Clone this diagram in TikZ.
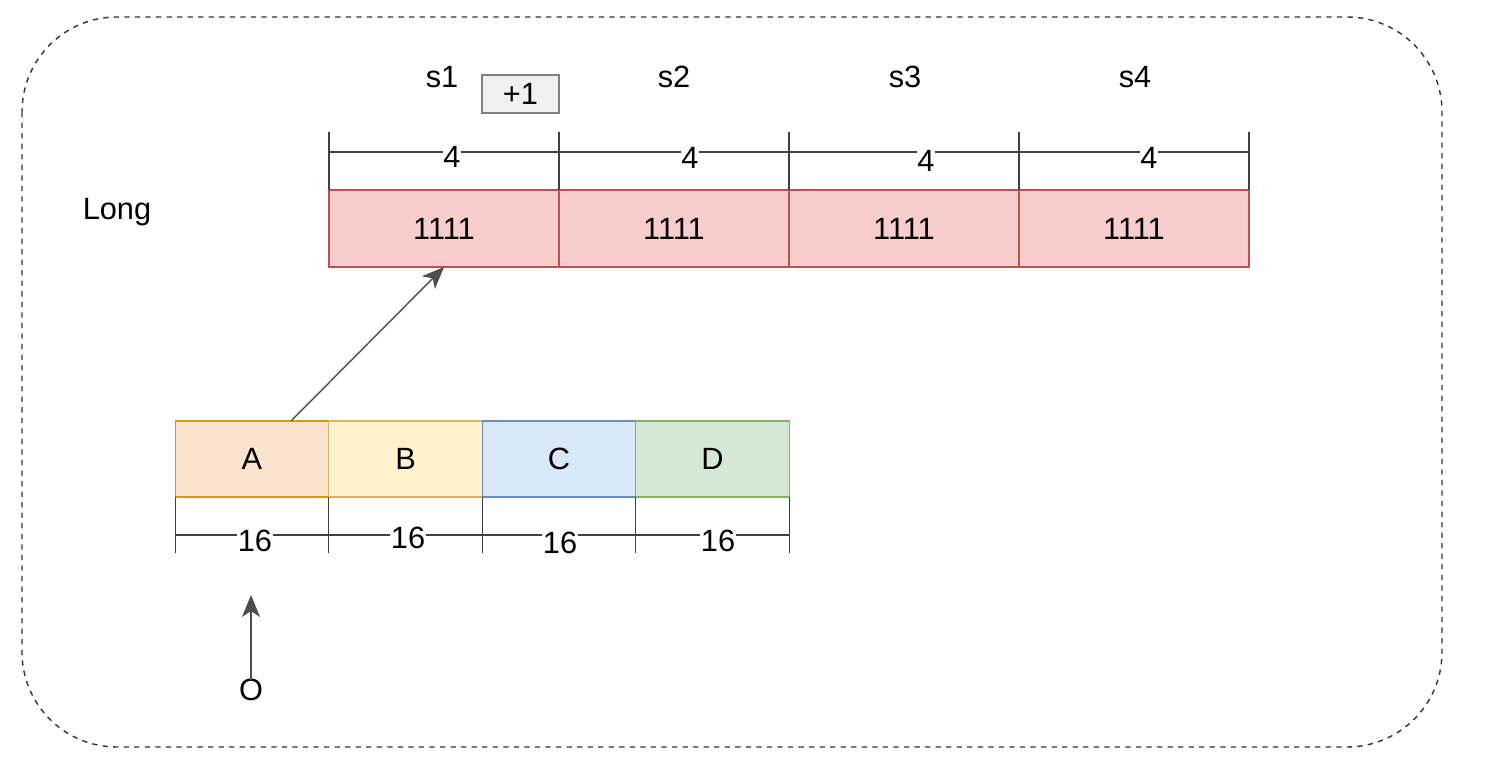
\documentclass[tikz,border=0pt]{standalone}
\usepackage{fontspec}
\setmainfont{Liberation Sans}
\usepackage{xcolor}
\definecolor{redfill}{HTML}{F8CECC}
\definecolor{reddraw}{HTML}{B85450}
\definecolor{orgfill}{HTML}{FAE3CF}
\definecolor{orgdraw}{HTML}{D79B00}
\definecolor{yelfill}{HTML}{FFF2CC}
\definecolor{yeldraw}{HTML}{D6B656}
\definecolor{bluefill}{HTML}{DAE8FC}
\definecolor{bluedraw}{HTML}{6C8EBF}
\definecolor{grnfill}{HTML}{D5E8D4}
\definecolor{grndraw}{HTML}{82B366}
\definecolor{arrgray}{HTML}{4D4D4D}
\usetikzlibrary{arrows.meta,positioning}
\tikzset{
  cellred/.style={rectangle, draw=reddraw, fill=redfill, line width=0.8pt, minimum width=46mm,
    minimum height=15.4mm, outer sep=0pt, inner sep=0pt},
  cellorg/.style={rectangle, draw=orgdraw, fill=orgfill, line width=0.8pt, minimum width=30.7mm,
    minimum height=15.2mm, outer sep=0pt, inner sep=0pt},
  cellyel/.style={rectangle, draw=yeldraw, fill=yelfill, line width=0.8pt, minimum width=30.7mm,
    minimum height=15.2mm, outer sep=0pt, inner sep=0pt},
  cellblue/.style={rectangle, draw=bluedraw, fill=bluefill, line width=0.8pt, minimum width=30.7mm,
    minimum height=15.2mm, outer sep=0pt, inner sep=0pt},
  cellgrn/.style={rectangle, draw=grndraw, fill=grnfill, line width=0.8pt, minimum width=30.7mm,
    minimum height=15.2mm, outer sep=0pt, inner sep=0pt},
  dimline/.style={draw=black!75, line width=0.7pt},
  dimlabel/.style={fill=white, inner sep=0.5pt},
  incbox/.style={rectangle, draw=gray, fill=gray!12, line width=0.8pt, minimum width=15.4mm,
    minimum height=7.6mm, inner sep=0pt},
  arr/.style={draw=arrgray, line width=0.8pt,
    -{Stealth[length=4.4mm, width=3.6mm, inset=1.2mm]}},
}
\begin{document}
\begin{tikzpicture}[x=0.2mm, y=-0.2mm, font=\fontsize{17.5}{20}\selectfont]
  \useasboundingbox (0,0) rectangle (1502,762);
  % outer frame
  \draw[dashed, rounded corners=19mm, line width=0.8pt, black!80] (22,17) rectangle (1442,747);
  \node (long) at (117,212) {Long};

  % long cells
  \node[cellred] (r1) at (444,228.5) {1111};
  \node[cellred, right=0pt of r1] (r2) {1111};
  \node[cellred, right=0pt of r2] (r3) {1111};
  \node[cellred, right=0pt of r3] (r4) {1111};

  \node (s1) at (442,77) {s1};
  \node (s2) at (674,77) {s2};
  \node (s3) at (905,77) {s3};
  \node (s4) at (1135,77) {s4};
  \node[incbox] (inc) at (520.5,94) {+1};

  % dimension above
  \foreach \c in {r1.north west, r2.north west, r3.north west, r4.north west, r4.north east}
    \draw[dimline] (\c) -- ([yshift=11.6mm]\c);
  \draw[dimline] ([yshift=7.6mm]r1.north west) -- ([yshift=7.6mm]r4.north east);
  \node[dimlabel] (d1) at (452,157) {4};
  \node[dimlabel] (d2) at (690,158) {4};
  \node[dimlabel] (d3) at (926,161) {4};
  \node[dimlabel] (d4) at (1149,158) {4};

  % cells below
  \node[cellorg] (a) at (252,459) {A};
  \node[cellyel, right=0pt of a] (b) {B};
  \node[cellblue, right=0pt of b] (c) {C};
  \node[cellgrn, right=0pt of c] (d) {D};

  % dimension below
  \foreach \c in {a.south west, b.south west, c.south west, d.south west, d.south east}
    \draw[dimline] (\c) -- ([yshift=-11.2mm]\c);
  \draw[dimline] ([yshift=-7.6mm]a.south west) -- ([yshift=-7.6mm]d.south east);
  \node[dimlabel] (e1) at (255,541) {16};
  \node[dimlabel] (e2) at (408,538) {16};
  \node[dimlabel] (e3) at (560,543) {16};
  \node[dimlabel] (e4) at (718,541) {16};

  % arrows
  \draw[arr] ([xshift=7.8mm]a.north) -- (r1.south);
  \node (o) at (251,690) {O};
  \coordinate (otip) at (251,595);
  \draw[arr] ([yshift=-1.5mm]o.north) -- (otip);
\end{tikzpicture}
\end{document}
